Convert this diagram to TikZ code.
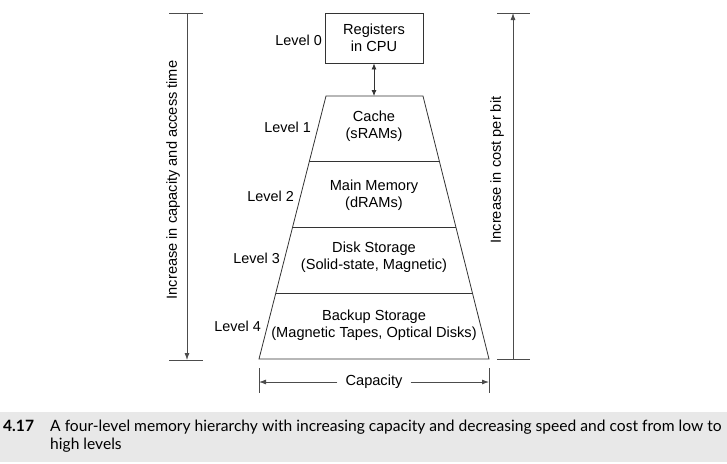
\documentclass[tikz,border=0pt]{standalone}
\usepackage{fontspec}
\setmainfont{Liberation Sans}
\newfontfamily\capfont{Lato}
\usetikzlibrary{arrows.meta, calc, positioning}

\begin{document}
\begin{tikzpicture}[x=1pt, y=-1pt,
    block/.style={font=\fontsize{14.6}{17.5}\selectfont, align=center, inner sep=0pt},
    lvl/.style={font=\fontsize{14.4}{17}\selectfont, anchor=east, inner sep=0pt},
    edge/.style={draw=black!80, line width=0.8pt},
    dim/.style={draw=black!70, line width=0.8pt},
    tip/.style={-{Latex[length=7pt,width=5pt]}},
    captext/.style={anchor=base west, inner sep=0pt, font=\capfont\fontsize{15.6}{18}\selectfont}
]

\useasboundingbox (0,0) rectangle (727,463);

% caption band
\fill[black!9] (0,412) rectangle (727,462);
\node[captext, font=\capfont\bfseries\fontsize{15.6}{18}\selectfont] (capnum) at (3,431) {4.17};
\node[captext] (capline1) at (50,431) {A four-level memory hierarchy with increasing capacity and decreasing speed and cost from low to};
\node[captext] (capline2) at (50,449) {high levels};

% level 0
\node[draw, edge, block, minimum width=98pt, minimum height=50pt] (reg) at (374,38) {Registers\\in CPU};

% pyramid
\coordinate (tl) at (326,96);
\coordinate (tr) at (423,96);
\coordinate (bl) at (259,359);
\coordinate (br) at (489,359);
\coordinate (ttop) at (374,96);
\draw[edge] (tl) -- (tr) -- (br) -- (bl) -- cycle;
\foreach \f in {0.25,0.5,0.75}
    \draw[edge] ($(tl)!\f!(bl)$) -- ($(tr)!\f!(br)$);

\draw[edge, {Latex[length=6pt,width=5pt]}-{Latex[length=6pt,width=5pt]}] (reg.south) -- (ttop);

% contents
\node[block] (cache) at (374,126) {Cache\\(sRAMs)};
\node[block] (dram) at (374,195) {Main Memory\\(dRAMs)};
\node[block] (disk) at (374,257) {Disk Storage\\(Solid-state, Magnetic)};
\node[block] (backup) at (374,325) {Backup Storage\\(Magnetic Tapes, Optical Disks)};

% level labels
\node[lvl] (lv0) at (322,40) {Level 0};
\node[lvl] (lv1) at (311,127) {Level 1};
\node[lvl] (lv2) at (294,196) {Level 2};
\node[lvl] (lv3) at (280,258) {Level 3};
\node[lvl] (lv4) at (261,326) {Level 4};

% left scale
\coordinate (lt) at (187,13);
\coordinate (lb) at (187,360);
\draw[dim] ($(lt)+(-18,0)$) -- ($(lt)+(16,0)$);
\draw[dim] ($(lb)+(-18,0)$) -- ($(lb)+(16,0)$);
\draw[dim, tip] (lt) -- (lb);
\node[block, rotate=90] (capacc) at (173,180) {Increase in capacity and access time};

% right scale
\coordinate (rt) at (513,13);
\coordinate (rb) at (513,359);
\draw[dim] ($(rt)+(-16,0)$) -- ($(rt)+(17,0)$);
\draw[dim] ($(rb)+(-16,0)$) -- ($(rb)+(17,0)$);
\draw[dim, tip] (rb) -- (rt);
\node[block, rotate=90] (cost) at (497,170) {Increase in cost per bit};

% capacity
\coordinate (cl) at (259,382);
\coordinate (cr) at (489,382);
\draw[dim] ($(cl)+(0,-14)$) -- ($(cl)+(0,11)$);
\draw[dim] ($(cr)+(0,-14)$) -- ($(cr)+(0,11)$);
\node[block, inner xsep=8pt] (capac) at (374,382) {Capacity};
\draw[dim, tip] (capac.west) -- (cl);
\draw[dim, tip] (capac.east) -- (cr);

\end{tikzpicture}
\end{document}
